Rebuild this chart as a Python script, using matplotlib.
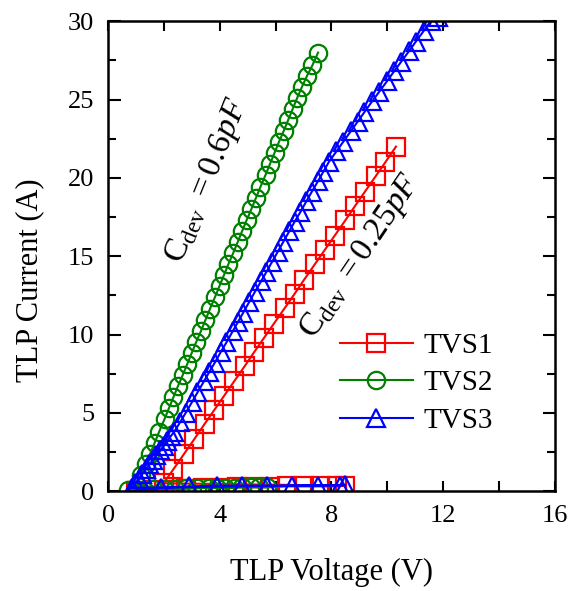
import matplotlib
matplotlib.use("Agg")
import matplotlib.pyplot as plt
from matplotlib.ticker import MultipleLocator

plt.rcParams['font.family'] = ['Liberation Serif', 'DejaVu Serif']
plt.rcParams['mathtext.fontset'] = 'custom'
plt.rcParams['mathtext.rm'] = 'Liberation Serif'
plt.rcParams['mathtext.it'] = 'Liberation Serif:italic'

# TVS1 : off-state then on-state branch
tvs1_v = [1.0, 1.6, 2.2, 2.8, 3.4, 4.0, 4.6, 5.2, 5.8, 6.4, 7.0, 7.6, 8.2, 8.5,
          1.99, 2.34, 2.73, 3.08, 3.46, 3.81, 4.16, 4.51, 4.90, 5.24, 5.59, 5.94,
          6.33, 6.68, 7.02, 7.41, 7.76, 8.11, 8.50, 8.84, 9.19, 9.58, 9.93, 10.31]
tvs1_i = [0.0, 0.05, 0.1, 0.15, 0.2, 0.2, 0.25, 0.25, 0.25, 0.3, 0.3, 0.3, 0.3, 0.35,
          0.5, 1.4, 2.4, 3.3, 4.3, 5.2, 6.1, 7.0, 8.0, 8.9, 9.8, 10.7,
          11.7, 12.6, 13.5, 14.5, 15.4, 16.3, 17.3, 18.2, 19.1, 20.1, 21.0, 22.0]

# TVS2
tvs2_v = [0.7, 1.0, 1.3, 1.6, 2.0, 2.4, 2.8, 3.2, 3.6, 3.9, 4.2, 4.5, 4.8, 5.1, 5.4, 5.7,
          1.02, 1.18, 1.34, 1.51, 1.67, 1.83, 2.02, 2.18, 2.34, 2.50, 2.67, 2.83,
          2.99, 3.15, 3.32, 3.48, 3.64, 3.83, 3.99, 4.15, 4.31, 4.48, 4.64, 4.80,
          4.96, 5.13, 5.29, 5.45, 5.64, 5.80, 5.96, 6.12, 6.29, 6.45, 6.61, 6.77,
          6.94, 7.12, 7.32, 7.52]
tvs2_i = [0.05, 0.1, 0.1, 0.15, 0.15, 0.15, 0.2, 0.2, 0.2, 0.2, 0.2, 0.2, 0.25, 0.25, 0.25, 0.25,
          0.3, 1.0, 1.7, 2.4, 3.1, 3.8, 4.6, 5.3, 6.0, 6.7, 7.4, 8.1,
          8.8, 9.5, 10.2, 10.9, 11.6, 12.4, 13.1, 13.8, 14.5, 15.2, 15.9, 16.6,
          17.3, 18.0, 18.7, 19.4, 20.2, 20.9, 21.6, 22.3, 23.0, 23.7, 24.4, 25.1,
          25.8, 26.5, 27.2, 28.0]

# TVS3
tvs3_v = [0.9, 1.9, 2.9, 3.9, 4.8, 5.7, 6.6, 7.5, 8.3, 8.5,
          0.85, 0.98, 1.10, 1.23, 1.36, 1.48, 1.61, 1.73, 1.86, 1.99, 2.11, 2.24, 2.37,
          2.58, 2.78, 3.01, 3.20, 3.43, 3.62, 3.82, 4.04, 4.24, 4.46, 4.65, 4.84,
          5.06, 5.25, 5.48, 5.67, 5.86, 6.08, 6.27, 6.49, 6.68, 6.88, 7.10, 7.29,
          7.52, 7.71, 7.90, 8.18, 8.42, 8.70, 8.94, 9.18, 9.46, 9.71, 10.00, 10.24,
          10.49, 10.78, 11.02, 11.31, 11.55, 11.80]
tvs3_i = [0.0, 0.2, 0.3, 0.35, 0.35, 0.35, 0.35, 0.35, 0.35, 0.4,
          0.2, 0.5, 0.8, 1.1, 1.4, 1.7, 2.0, 2.3, 2.6, 2.9, 3.2, 3.5, 3.8,
          4.4, 5.0, 5.7, 6.3, 7.0, 7.6, 8.2, 8.9, 9.5, 10.2, 10.8, 11.4,
          12.1, 12.7, 13.4, 14.0, 14.6, 15.3, 15.9, 16.6, 17.2, 17.8, 18.5, 19.1,
          19.8, 20.4, 21.0, 21.7, 22.3, 23.0, 23.6, 24.2, 24.9, 25.5, 26.2, 26.8,
          27.4, 28.1, 28.7, 29.4, 30.0, 30.3]

fig = plt.figure(figsize=(5.72, 5.91), dpi=100)
ax = fig.add_axes([0.189, 0.169, 0.781, 0.795])

style = dict(fillstyle='none', markersize=12.5, markeredgewidth=1.6, linewidth=1.5)
ax.plot(tvs1_v, tvs1_i, color='red', marker='s', label='TVS1', **style)
ax.plot(tvs2_v, tvs2_i, color='green', marker='o', label='TVS2', **style)
ax.plot(tvs3_v, tvs3_i, color='blue', marker='^', label='TVS3', **style)

ax.set_xlim(0, 16)
ax.set_ylim(0, 30)
ax.xaxis.set_major_locator(MultipleLocator(4))
ax.xaxis.set_minor_locator(MultipleLocator(2))
ax.yaxis.set_major_locator(MultipleLocator(5))
ax.yaxis.set_minor_locator(MultipleLocator(2.5))
ax.tick_params(which='both', direction='in', top=True, right=True, labelsize=19, width=1.5)
ax.tick_params(axis='x', which='both', length=7, pad=10)
ax.tick_params(axis='y', which='major', length=9, pad=10)
ax.tick_params(axis='y', which='minor', length=6)
for s in ax.spines.values():
    s.set_linewidth(1.8)

ax.set_xlabel('TLP Voltage (V)', fontsize=22, labelpad=22)
ax.set_ylabel('TLP Current (A)', fontsize=22, labelpad=16)
ax.yaxis.set_label_coords(-0.142, 0.45)

ax.text(3.55, 19.8, r'$\mathrm{C}_{\mathrm{dev}}$ $= \mathit{0.6pF}$', fontsize=24,
        rotation=68, ha='center', va='center', rotation_mode='anchor')
ax.text(9.05, 15.0, r'$\mathrm{C}_{\mathrm{dev}}$ $= \mathit{0.25pF}$', fontsize=24,
        rotation=56, ha='center', va='center', rotation_mode='anchor')

ax.legend(loc='center', bbox_to_anchor=(0.69, 0.23), frameon=False, fontsize=21,
          numpoints=1, handlelength=2.5, handletextpad=0.35, labelspacing=0.38)

fig.savefig('out.png', dpi=100)
